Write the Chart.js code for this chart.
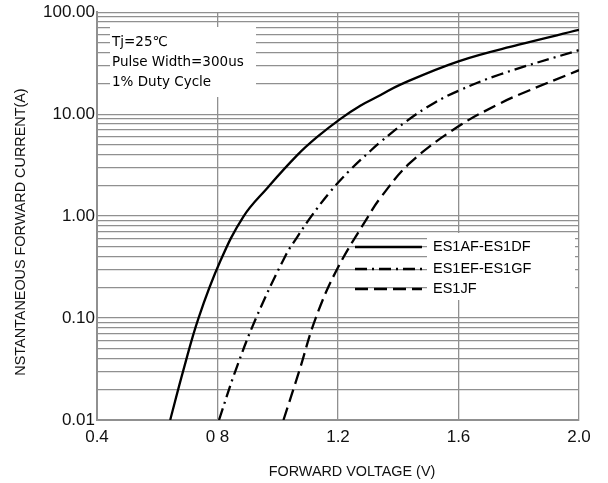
<!DOCTYPE html>
<html>
<head>
<meta charset="utf-8">
<script src="https://cdn.jsdelivr.net/npm/chart.js@4.4.0/dist/chart.umd.min.js"></script>
<style>
  html, body { margin: 0; padding: 0; background: #fff; }
  #wrap { width: 608px; height: 483px; }
</style>
</head>
<body>
<div id="wrap"><canvas id="fwd"></canvas></div>
<script>
// forward voltage (V) / forward current (A)
var seriesNames = ["ES1AF-ES1DF", "ES1EF-ES1GF", "ES1JF"];

var v_adf = [0.643, 0.687, 0.737, 0.809, 0.886, 0.964, 1.064, 1.130, 1.207, 1.274, 1.340, 1.407, 1.6, 1.8, 2.0];
var i_adf = [0.01, 0.031, 0.1, 0.36, 0.99, 1.87, 3.94, 5.94, 8.95, 12.1, 15.3, 19.5, 33, 48, 67];

var v_egf = [0.805, 0.859, 0.928, 1.024, 1.064, 1.113, 1.174, 1.237, 1.309, 1.340, 1.429, 1.518, 1.603, 1.737, 2.0];
var i_egf = [0.01, 0.03, 0.1, 0.40, 0.62, 1.01, 1.73, 2.77, 4.4, 5.3, 8.6, 12.8, 17.1, 24.5, 42.5];

var v_jf = [1.019, 1.071, 1.126, 1.199, 1.301, 1.340, 1.44, 1.6, 1.739, 1.8, 2.0];
var i_jf = [0.01, 0.03, 0.1, 0.31, 1.0, 1.5, 3.34, 7.6, 12.8, 15.5, 27];

var xTickValues = [0.4, 0.8, 1.2, 1.6, 2.0];
var xTickLabels = ["0.4", "0 8", "1.2", "1.6", "2.0"];
var yTickValues = [0.01, 0.1, 1, 10, 100];
var yTickLabels = ["0.01", "0.10", "1.00", "10.00", "100.00"];

var noteLines = ["Tj=25\u2103", "Pulse Width=300us", "1% Duty Cycle"];
var xTitle = "FORWARD VOLTAGE (V)";
var yTitle = "NSTANTANEOUS FORWARD CURRENT(A)";

function pts(xs, ys) {
  return xs.map(function (x, k) { return {x: x, y: ys[k]}; });
}

// minor log grid: 1..9 in every decade
var yGrid = [];
for (var d = 0; d < yTickValues.length - 1; d++) {
  for (var m = 1; m < 10; m++) yGrid.push(yTickValues[d] * m);
}
yGrid.push(yTickValues[yTickValues.length - 1]);

var dashes = [[], [12, 5, 2, 5], [13, 6]];
var gridColor = "#909090";
var tickFont = {family: "'Liberation Sans', Arial, sans-serif", size: 17};

var extras = {
  id: "extras",
  beforeDatasetsDraw: function (chart) {
    var ctx = chart.ctx;
    ctx.save();
    ctx.fillStyle = "#fff";
    ctx.fillRect(110, 27, 146, 70);   // note box
    ctx.fillRect(427, 233, 148, 67);  // legend box
    ctx.fillStyle = "#000";
    ctx.font = "13.5px 'DejaVu Sans', sans-serif";
    ctx.textBaseline = "middle";
    noteLines.forEach(function (t, k) { ctx.fillText(t, 112, 42 + k * 20); });
    ctx.restore();
  },
  afterDatasetsDraw: function (chart) {
    var ctx = chart.ctx;
    ctx.save();
    var ys = [247, 269, 289];
    seriesNames.forEach(function (name, k) {
      ctx.strokeStyle = "#000";
      ctx.lineWidth = 2.4;
      ctx.setLineDash(dashes[k]);
      ctx.beginPath();
      ctx.moveTo(355, ys[k]);
      ctx.lineTo(422, ys[k]);
      ctx.stroke();
      ctx.setLineDash([]);
      ctx.fillStyle = "#000";
      ctx.font = "14.5px 'Liberation Sans', Arial, sans-serif";
      ctx.textBaseline = "middle";
      ctx.fillText(name, 433, ys[k]);
    });
    ctx.fillStyle = "#111";
    ctx.font = "14.4px 'Liberation Sans', Arial, sans-serif";
    ctx.textAlign = "center";
    ctx.textBaseline = "middle";
    ctx.fillText(xTitle, 352, 472);
    ctx.translate(21, 232);
    ctx.rotate(-Math.PI / 2);
    ctx.fillText(yTitle, 0, 0);
    ctx.restore();
  }
};

var fwd_chart = new Chart("fwd", {
  type: "scatter",
  data: {
    datasets: [
      {label: seriesNames[0], data: pts(v_adf, i_adf), borderDash: dashes[0]},
      {label: seriesNames[1], data: pts(v_egf, i_egf), borderDash: dashes[1]},
      {label: seriesNames[2], data: pts(v_jf, i_jf), borderDash: dashes[2]}
    ].map(function (ds) {
      ds.showLine = true;
      ds.pointRadius = 0;
      ds.borderColor = "#000";
      ds.borderWidth = 2.3;
      ds.tension = 0.4;
      return ds;
    })
  },
  options: {
    responsive: true,
    maintainAspectRatio: false,
    animation: false,
    layout: {padding: {top: 9, right: 29, left: 0, bottom: 0}},
    plugins: {legend: {display: false}, tooltip: {enabled: false}},
    scales: {
      x: {
        type: "linear",
        min: 0.4,
        max: 2.0,
        afterBuildTicks: function (s) { s.ticks = xTickValues.map(function (v) { return {value: v}; }); },
        afterFit: function (s) { s.height = 63; },
        ticks: {
          autoSkip: false, maxRotation: 0, padding: 7, color: "#111", font: tickFont,
          callback: function (v, idx) { return xTickLabels[idx]; }
        },
        grid: {color: gridColor, lineWidth: 1.3, drawTicks: false},
        border: {color: gridColor, width: 2}
      },
      y: {
        type: "logarithmic",
        min: 0.01,
        max: 100,
        afterBuildTicks: function (s) { s.ticks = yGrid.map(function (v) { return {value: v}; }); },
        afterFit: function (s) { s.width = 97; },
        ticks: {
          autoSkip: false, padding: 2, color: "#111", font: tickFont,
          callback: function (v) {
            var k = yTickValues.findIndex(function (t) { return Math.abs(t - v) / t < 1e-6; });
            return k >= 0 ? yTickLabels[k] : "";
          }
        },
        grid: {color: gridColor, lineWidth: 1.3, drawTicks: false},
        border: {color: gridColor, width: 2}
      }
    }
  },
  plugins: [extras]
});
</script>
</body>
</html>
